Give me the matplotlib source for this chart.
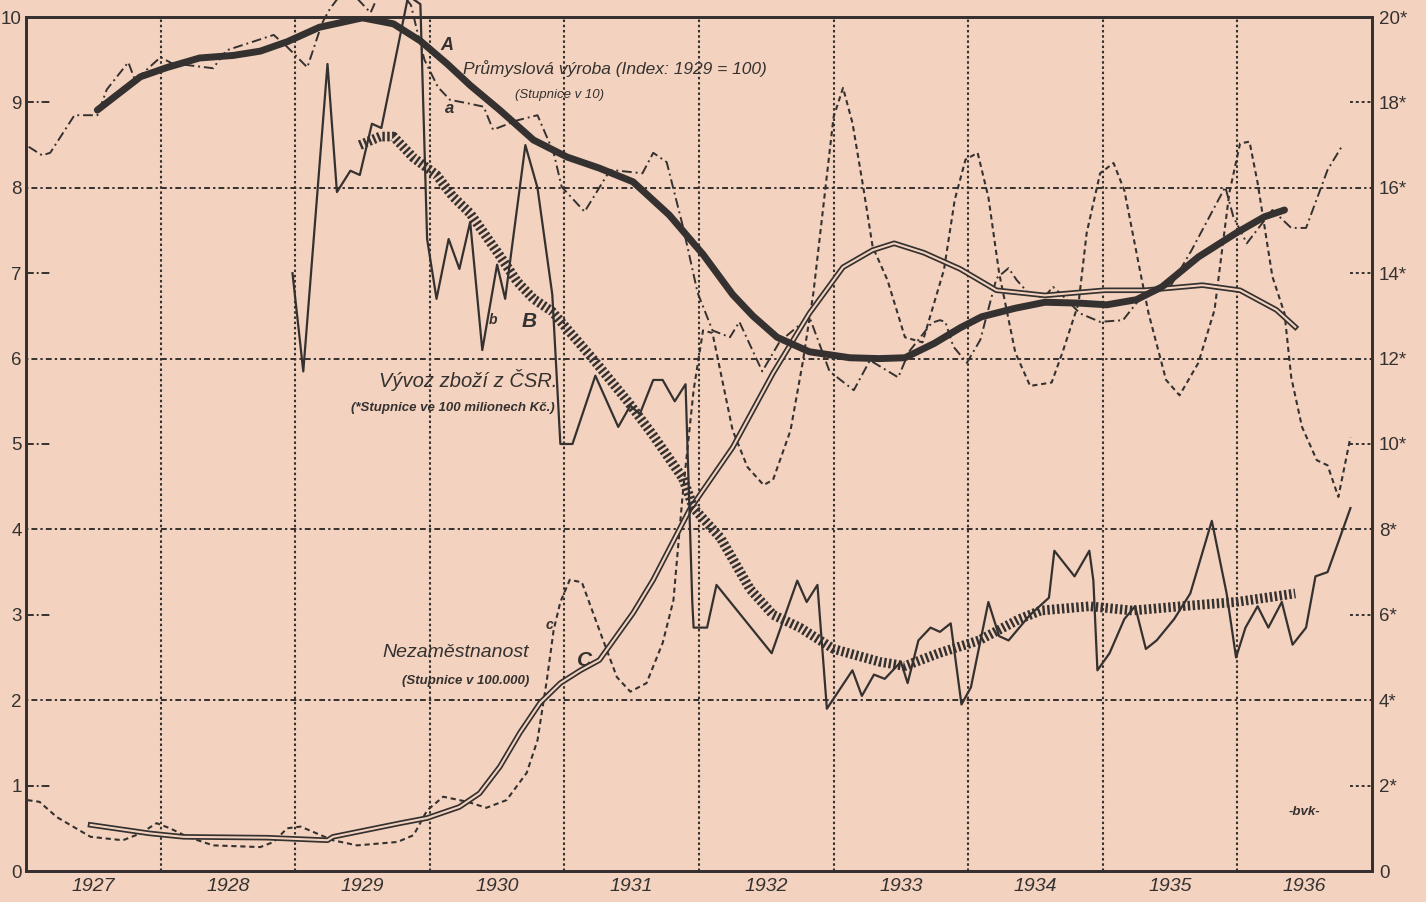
import matplotlib
matplotlib.use('Agg')
import matplotlib.pyplot as plt

paper = '#f3d3bf'
ink = '#353130'
fam = ['Liberation Sans', 'DejaVu Sans']

years = [1927, 1928, 1929, 1930, 1931, 1932, 1933, 1934, 1935, 1936]
left_ticks = [0, 1, 2, 3, 4, 5, 6, 7, 8, 9, 10]
right_ticks = [0, 2, 4, 6, 8, 10, 12, 14, 16, 18, 20]
right_labels = ['0', '2*', '4*', '6*', '8*', '10*', '12*', '14*', '16*', '18*', '20*']

# industrial production, index/10 (monthly, dash-dot)
prod_t = [1927.02, 1927.12, 1927.18, 1927.36, 1927.53, 1927.60, 1927.76, 1927.81, 1928.00, 1928.08,
          1928.39, 1928.49, 1928.84, 1928.94, 1929.09, 1929.20, 1929.26, 1929.38, 1929.56, 1929.63,
          1929.78, 1929.86, 1929.91, 1929.96, 1930.06, 1930.15, 1930.28, 1930.40, 1930.47, 1930.65,
          1930.80, 1930.92, 1930.98, 1931.15, 1931.34, 1931.58, 1931.66, 1931.76, 1931.88, 1931.99,
          1932.10, 1932.23, 1932.30, 1932.47, 1932.60, 1932.82, 1932.97, 1933.15, 1933.27, 1933.48,
          1933.56, 1933.73, 1933.79, 1933.83, 1933.89, 1933.99, 1934.09, 1934.21, 1934.30, 1934.36,
          1934.44, 1934.56, 1934.63, 1934.70, 1934.83, 1934.98, 1935.15, 1935.28, 1935.50, 1935.66,
          1935.91, 1935.97, 1936.07, 1936.26, 1936.40, 1936.51, 1936.67, 1936.77]
prod_v = [8.48, 8.38, 8.41, 8.85, 8.85, 9.15, 9.47, 9.26, 9.53, 9.46,
          9.40, 9.61, 9.79, 9.65, 9.41, 9.93, 10.1, 10.35, 10.05, 10.3,
          10.3, 10.14, 9.81, 9.50, 9.18, 9.03, 8.99, 8.95, 8.68, 8.79,
          8.85, 8.41, 8.01, 7.72, 8.21, 8.17, 8.41, 8.30, 7.55, 6.77,
          6.33, 6.25, 6.43, 5.85, 6.20, 6.49, 5.85, 5.63, 5.98, 5.78,
          6.08, 6.42, 6.45, 6.43, 6.14, 5.95, 6.22, 6.94, 7.06, 6.92,
          6.78, 6.71, 6.84, 6.74, 6.53, 6.43, 6.45, 6.71, 6.84, 7.27,
          8.01, 7.66, 7.35, 7.74, 7.53, 7.53, 8.21, 8.47]

# industrial production trend (thick line A)
prod_tr_t = [1927.53, 1927.85, 1928.05, 1928.29, 1928.54, 1928.74, 1928.94, 1929.18, 1929.50, 1929.73,
             1929.93, 1930.13, 1930.30, 1930.52, 1930.77, 1931.02, 1931.26, 1931.51, 1931.78, 1932.03,
             1932.25, 1932.40, 1932.58, 1932.82, 1933.12, 1933.34, 1933.53, 1933.75, 1933.94, 1934.10,
             1934.35, 1934.57, 1934.82, 1935.03, 1935.25, 1935.44, 1935.71, 1935.99, 1936.20, 1936.35]
prod_tr_v = [8.91, 9.30, 9.41, 9.52, 9.55, 9.60, 9.71, 9.88, 9.99, 9.92,
             9.72, 9.45, 9.20, 8.91, 8.56, 8.36, 8.23, 8.07, 7.68, 7.22,
             6.75, 6.50, 6.25, 6.08, 6.01, 6.00, 6.01, 6.18, 6.36, 6.49,
             6.59, 6.66, 6.65, 6.63, 6.69, 6.84, 7.19, 7.47, 7.66, 7.74]

# exports, 100 mil. Kc (right scale)
exp_t = [1928.98, 1929.06, 1929.24, 1929.31, 1929.41, 1929.48, 1929.57, 1929.64, 1929.84, 1929.93,
         1929.98, 1930.05, 1930.14, 1930.22, 1930.30, 1930.39, 1930.50, 1930.56, 1930.71, 1930.80,
         1930.91, 1930.97, 1931.06, 1931.23, 1931.40, 1931.49, 1931.56, 1931.66, 1931.73, 1931.82,
         1931.90, 1931.95, 1931.96, 1932.06, 1932.13, 1932.54, 1932.73, 1932.80, 1932.88, 1932.95,
         1933.14, 1933.21, 1933.30, 1933.38, 1933.50, 1933.55, 1933.63, 1933.72, 1933.79, 1933.87,
         1933.95, 1934.02, 1934.15, 1934.23, 1934.30, 1934.46, 1934.60, 1934.64, 1934.79, 1934.90,
         1934.93, 1934.96, 1935.05, 1935.16, 1935.24, 1935.32, 1935.40, 1935.53, 1935.65, 1935.81,
         1935.92, 1935.99, 1936.06, 1936.15, 1936.23, 1936.33, 1936.41, 1936.51, 1936.58, 1936.67,
         1936.84]
exp_v = [14.0, 11.7, 18.9, 15.9, 16.4, 16.3, 17.5, 17.4, 20.5, 20.3,
         14.8, 13.4, 14.8, 14.1, 15.2, 12.2, 14.2, 13.4, 17.0, 16.0,
         13.5, 10.0, 10.0, 11.6, 10.4, 10.9, 10.7, 11.5, 11.5, 11.0,
         11.4, 6.3, 5.7, 5.7, 6.7, 5.1, 6.8, 6.3, 6.7, 3.8,
         4.7, 4.1, 4.6, 4.5, 4.9, 4.4, 5.4, 5.7, 5.6, 5.8,
         3.9, 4.3, 6.3, 5.5, 5.4, 6.0, 6.4, 7.5, 6.9, 7.5,
         6.8, 4.7, 5.1, 5.9, 6.2, 5.2, 5.4, 5.9, 6.5, 8.2,
         6.5, 5.0, 5.7, 6.2, 5.7, 6.3, 5.3, 5.7, 6.9, 7.0,
         8.5]

# exports trend (hatched line B)
exp_tr_t = [1929.48, 1929.63, 1929.73, 1929.88, 1930.05, 1930.17, 1930.30, 1930.50, 1930.65, 1930.77,
            1930.91, 1931.21, 1931.47, 1931.66, 1931.88, 1931.96, 1932.16, 1932.38, 1932.55, 1932.75,
            1933.00, 1933.34, 1933.53, 1933.78, 1934.08, 1934.38, 1934.54, 1934.90, 1935.22, 1935.58,
            1935.99, 1936.43]
exp_tr_v = [17.0, 17.2, 17.2, 16.7, 16.3, 15.8, 15.4, 14.5, 13.8, 13.4,
            13.1, 12.0, 11.0, 10.2, 9.2, 8.5, 7.8, 6.6, 6.0, 5.7,
            5.2, 4.9, 4.8, 5.1, 5.4, 5.9, 6.1, 6.2, 6.1, 6.2,
            6.3, 6.5]

# unemployment, 100 000 persons (dashed line c)
unemp_t = [1927.01, 1927.10, 1927.23, 1927.48, 1927.72, 1927.85, 1927.97, 1928.07, 1928.20, 1928.39,
           1928.74, 1928.84, 1928.94, 1929.04, 1929.16, 1929.28, 1929.46, 1929.76, 1929.88, 1929.98,
           1930.10, 1930.28, 1930.42, 1930.57, 1930.72, 1930.80, 1930.87, 1930.92, 1930.97, 1931.04,
           1931.13, 1931.26, 1931.39, 1931.49, 1931.61, 1931.73, 1931.81, 1931.88, 1931.96, 1932.03,
           1932.10, 1932.25, 1932.36, 1932.48, 1932.55, 1932.68, 1932.77, 1932.85, 1933.00, 1933.07,
           1933.14, 1933.22, 1933.29, 1933.40, 1933.53, 1933.66, 1933.82, 1933.90, 1933.98, 1934.07,
           1934.15, 1934.23, 1934.35, 1934.46, 1934.62, 1934.70, 1934.82, 1934.88, 1934.98, 1935.08,
           1935.16, 1935.28, 1935.34, 1935.47, 1935.57, 1935.71, 1935.83, 1935.94, 1936.02, 1936.09,
           1936.15, 1936.26, 1936.35, 1936.40, 1936.48, 1936.59, 1936.67, 1936.75, 1936.84]
unemp_v = [0.83, 0.81, 0.63, 0.40, 0.36, 0.44, 0.56, 0.50, 0.40, 0.30,
           0.28, 0.34, 0.50, 0.52, 0.44, 0.36, 0.30, 0.34, 0.42, 0.71,
           0.87, 0.81, 0.74, 0.83, 1.15, 1.53, 2.24, 2.82, 3.15, 3.41,
           3.38, 2.82, 2.27, 2.10, 2.20, 2.67, 3.17, 4.43, 5.63, 6.33,
           6.30, 5.16, 4.73, 4.52, 4.58, 5.16, 5.95, 6.77, 8.83, 9.17,
           8.76, 8.01, 7.31, 6.92, 6.25, 6.19, 7.04, 7.86, 8.33, 8.41,
           7.89, 7.00, 6.07, 5.68, 5.72, 6.07, 6.65, 7.47, 8.17, 8.29,
           7.97, 7.00, 6.53, 5.75, 5.57, 5.95, 6.57, 7.94, 8.52, 8.54,
           8.06, 6.96, 6.53, 5.78, 5.20, 4.81, 4.75, 4.38, 5.08]

# unemployment trend (double line C)
unemp_tr_t = [1927.48, 1927.92, 1928.17, 1928.79, 1929.24, 1929.28, 1929.78, 1929.98, 1930.22, 1930.37,
              1930.52, 1930.67, 1930.82, 1930.97, 1931.12, 1931.26, 1931.51, 1931.66, 1931.93, 1932.25,
              1932.55, 1932.82, 1933.07, 1933.29, 1933.45, 1933.67, 1933.94, 1934.21, 1934.57, 1935.01,
              1935.31, 1935.74, 1936.02, 1936.29, 1936.43]
unemp_tr_v = [0.54, 0.44, 0.40, 0.39, 0.36, 0.40, 0.56, 0.62, 0.75, 0.91,
              1.22, 1.62, 1.97, 2.20, 2.35, 2.47, 3.02, 3.41, 4.23, 4.96,
              5.83, 6.53, 7.07, 7.27, 7.35, 7.24, 7.05, 6.80, 6.74, 6.80,
              6.80, 6.86, 6.80, 6.57, 6.37]


fig = plt.figure(figsize=(14.26, 9.02), dpi=100, facecolor=paper)
ax = fig.add_axes([26 / 1426, 31 / 902, 1346 / 1426, 854 / 902])
ax.set_facecolor(paper)
ax.set_xlim(1927, 1937)
ax.set_ylim(0, 10)
ax2 = ax.twinx()
ax2.set_ylim(0, 20)

for a in (ax, ax2):
    for s in a.spines.values():
        s.set_color(ink)
        s.set_linewidth(2)

# grid
for y in [2, 4, 6, 8]:
    ax.axhline(y, color=ink, lw=1.4, ls=(0, (1.2, 1.6, 3, 1.6)), zorder=1)
for x in years[1:]:
    ax.axvline(x, color=ink, lw=1.5, ls=(0, (1.2, 1.3)), zorder=1)
for y in [1, 3, 5, 7, 9]:
    ax.plot([1927, 1927.18], [y, y], color=ink, lw=1.4, ls=(0, (4, 1.5, 1, 1.5)), solid_capstyle='butt')
    ax.plot([1936.84, 1937], [y, y], color=ink, lw=1.4, ls=(0, (1.5, 1.5)))

# ticks
ax.set_xticks(years + [1937])
ax.set_xticklabels([])
ax.set_xticks([y + 0.5 for y in years], minor=True)
ax.set_xticklabels([str(y) for y in years], minor=True, family=fam, style='italic', fontsize=14, color=ink)
ax.tick_params(axis='x', which='both', length=0, pad=5)
ax.set_yticks(left_ticks)
ax.set_yticklabels([str(v) for v in left_ticks], family=fam, fontsize=13.5, color=ink)
ax.tick_params(axis='y', length=0, pad=3)
ax2.set_yticks(right_ticks)
ax2.set_yticklabels(right_labels, family=fam, fontsize=13.5, color=ink)
ax2.tick_params(axis='y', length=0, pad=5)

# series
ax.plot(prod_t, prod_v, color=ink, lw=1.4, ls=(0, (5, 2, 1, 2)), clip_on=False, zorder=3)
ax.plot(prod_tr_t, prod_tr_v, color=ink, lw=5, solid_capstyle='round', solid_joinstyle='round', zorder=5)
ax.plot(unemp_t, unemp_v, color=ink, lw=1.5, ls=(0, (2.5, 1.8)), zorder=3)
ax.plot(unemp_tr_t, unemp_tr_v, color=ink, lw=4.0, solid_joinstyle='round', zorder=4)
ax.plot(unemp_tr_t, unemp_tr_v, color=paper, lw=1.5, solid_joinstyle='round', zorder=4)
ax2.plot(exp_t, exp_v, color=ink, lw=1.6, clip_on=False, zorder=3)
ax2.plot(exp_tr_t, exp_tr_v, color=ink, lw=7, ls=(0, (0.25, 0.25)), dash_capstyle='butt', zorder=4)

# labels
kw = dict(family=fam, style='italic', color=ink)
ax.text(1930.25, 9.40, 'Průmyslová výroba (Index: 1929 = 100)', fontsize=12.5, va='center', **kw)
ax.text(1930.96, 9.09, '(Stupnice v 10)', fontsize=9.5, va='center', ha='center', **kw)
ax.text(1930.95, 5.75, 'Vývoz zboží z ČSR.', fontsize=14.5, va='center', ha='right', **kw)
ax.text(1930.93, 5.42, '(*Stupnice ve 100 milionech Kč.)', fontsize=9.5, va='center', ha='right',
        weight='bold', **kw)
ax.text(1930.74, 2.56, 'Nezaměstnanost', fontsize=14, va='center', ha='right', **kw)
ax.text(1930.74, 2.22, '(Stupnice v 100.000)', fontsize=9.5, va='center', ha='right', weight='bold', **kw)
ax.text(1930.13, 9.67, 'A', fontsize=13, ha='center', va='center', weight='bold', **kw)
ax.text(1930.15, 8.93, 'a', fontsize=12, ha='center', va='center', weight='bold', **kw)
ax.text(1930.47, 6.45, 'b', fontsize=10, ha='center', va='center', weight='bold', **kw)
ax.text(1930.74, 6.43, 'B', fontsize=15, ha='center', va='center', weight='bold', **kw)
ax.text(1930.89, 2.88, 'c', fontsize=10, ha='center', va='center', weight='bold', **kw)
ax.text(1931.15, 2.47, 'C', fontsize=15, ha='center', va='center', weight='bold', **kw)
ax.text(1936.50, 0.69, '-bvk-', fontsize=9.5, ha='center', va='center', weight='bold', **kw)

fig.savefig('out.png', dpi=100, facecolor=paper)
